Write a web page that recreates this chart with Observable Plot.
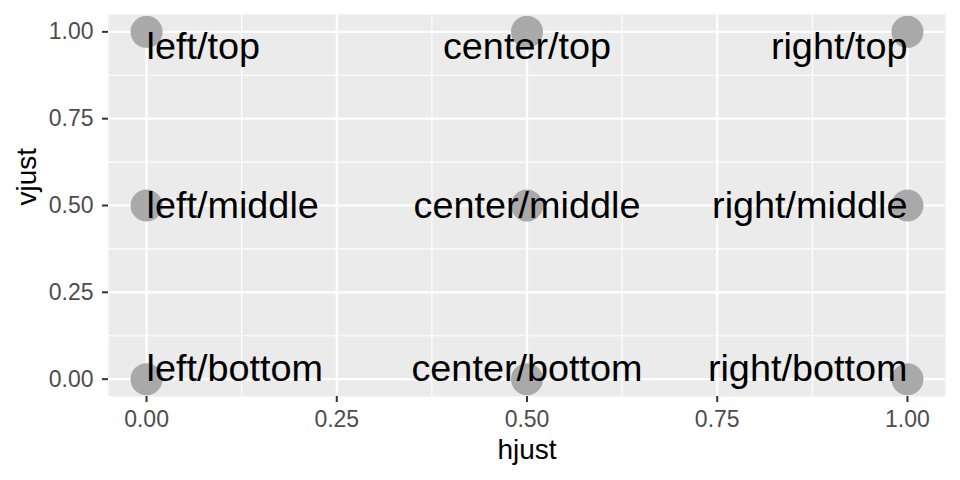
<!DOCTYPE html>
<html>
<head>
<meta charset="utf-8">
<script src="https://cdn.jsdelivr.net/npm/d3@7"></script>
<script src="https://cdn.jsdelivr.net/npm/@observablehq/plot@0.6"></script>
<style>
  html, body { margin: 0; padding: 0; background: #ffffff; }
  svg { display: block; }
</style>
</head>
<body>
<div id="chart"></div>
<script>
// Data
const hjustValues = [0, 0.5, 1];
const hjustNames = ["left", "center", "right"];
const vjustValues = [0, 0.5, 1];
const vjustNames = ["bottom", "middle", "top"];
const majorTicks = [0, 0.25, 0.5, 0.75, 1];
const minorTicks = [0.125, 0.375, 0.625, 0.875];

const rows = [];
hjustValues.forEach((h, i) => {
  vjustValues.forEach((v, j) => {
    rows.push({hjust: h, vjust: v, hname: hjustNames[i], vname: vjustNames[j], label: hjustNames[i] + "/" + vjustNames[j]});
  });
});

const font = "'Liberation Sans', Arial, Helvetica, sans-serif";
const anchorH = {left: "start", center: "middle", right: "end"};
const anchorV = {bottom: "bottom", middle: "middle", top: "top"};
const dyV = {bottom: 1.5, middle: 0, top: 0};

const textMarks = [];
hjustNames.forEach(hn => {
  vjustNames.forEach(vn => {
    textMarks.push(Plot.text(rows.filter(d => d.hname === hn && d.vname === vn), {
      x: "hjust", y: "vjust", text: "label",
      textAnchor: anchorH[hn], lineAnchor: anchorV[vn], dy: dyV[vn],
      fontSize: 37.8, fill: "#000000", fontFamily: font
    }));
  });
});

const chart = Plot.plot({
  width: 960,
  height: 480,
  marginLeft: 108,
  marginRight: 15,
  marginTop: 14,
  marginBottom: 84,
  style: {fontFamily: font, background: "#ffffff"},
  x: {domain: [-0.05, 1.05], label: null},
  y: {domain: [-0.05, 1.05], label: null},
  marks: [
    Plot.frame({fill: "#EBEBEB", stroke: null}),
    Plot.gridX(minorTicks, {stroke: "#ffffff", strokeOpacity: 1, strokeWidth: 1.1}),
    Plot.gridY(minorTicks, {stroke: "#ffffff", strokeOpacity: 1, strokeWidth: 1.1}),
    Plot.gridX(majorTicks, {stroke: "#ffffff", strokeOpacity: 1, strokeWidth: 2.2}),
    Plot.gridY(majorTicks, {stroke: "#ffffff", strokeOpacity: 1, strokeWidth: 2.2}),
    Plot.axisX(majorTicks, {tickSize: 6, tickPadding: 8, tickFormat: d3.format(".2f"), stroke: "#333333", fill: "#4D4D4D", strokeWidth: 2, fontSize: 23, label: null}),
    Plot.axisY(majorTicks, {tickSize: 6, tickPadding: 9, tickFormat: d3.format(".2f"), stroke: "#333333", fill: "#4D4D4D", strokeWidth: 2, fontSize: 23, label: null}),
    Plot.dot(rows, {x: "hjust", y: "vjust", r: 16, fill: "#A9A9A9", stroke: null}),
    ...textMarks,
    Plot.text(["hjust"], {frameAnchor: "bottom", dy: 43, lineAnchor: "top", fontSize: 28, fill: "#000000", fontFamily: font}),
    Plot.text(["vjust"], {frameAnchor: "left", dx: -81, rotate: -90, lineAnchor: "middle", fontSize: 28, fill: "#000000", fontFamily: font})
  ]
});
document.getElementById("chart").appendChild(chart);
</script>
</body>
</html>
